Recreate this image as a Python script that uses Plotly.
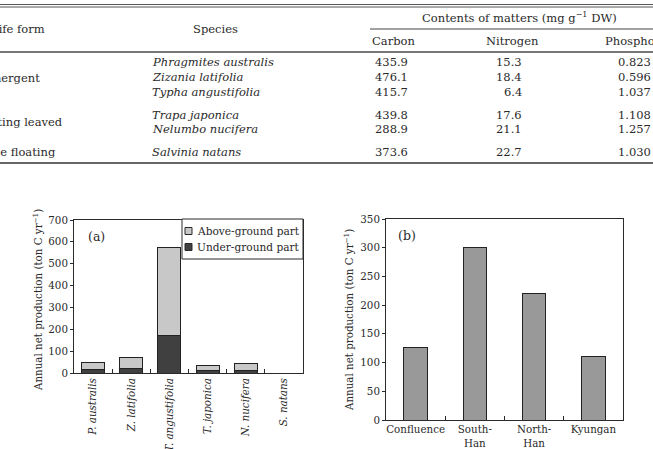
import plotly.graph_objects as go

W, H = 653, 449
def X(px): return px / W
def Y(py): return 1 - py / H

# ---------------- data ----------------
species_short = ["P. australis", "Z. latifolia", "T. angustifolia", "T. japonica", "N. nucifera", "S. natans"]
under_ground = [16, 20, 172, 10, 13, 0]
above_ground = [31, 50, 403, 23, 29, 0]

sites = ["Confluence", "South-<br>Han", "North-<br>Han", "Kyungan"]
site_production = [126, 300, 221, 110]

life_forms = ["Emergent", "Floating leaved", "Free floating"]
species_full = ["Phragmites australis", "Zizania latifolia", "Typha angustifolia",
                "Trapa japonica", "Nelumbo nucifera", "Salvinia natans"]
carbon = ["435.9", "476.1", "415.7", "439.8", "288.9", "373.6"]
nitrogen = ["15.3", "18.4", "6.4", "17.6", "21.1", "22.7"]
phosphorus = ["0.823", "0.596", "1.037", "1.108", "1.257", "1.030"]

legend_names = ["Above-ground part", "Under-ground part"]
ABOVE_C, UNDER_C = "#c8c8c8", "#404040"

FONT = "DejaVu Serif"
INK = "#2a2a2a"

fig = go.Figure()

fig.add_trace(go.Bar(x=species_short, y=under_ground, name=legend_names[1], showlegend=False,
                     marker=dict(color=UNDER_C, line=dict(color="#222222", width=1)),
                     width=0.6, xaxis="x", yaxis="y"))
fig.add_trace(go.Bar(x=species_short, y=above_ground, name=legend_names[0], showlegend=False,
                     marker=dict(color=ABOVE_C, line=dict(color="#222222", width=1)),
                     width=0.6, xaxis="x", yaxis="y"))
fig.add_trace(go.Bar(x=sites, y=site_production, showlegend=False,
                     marker=dict(color="#999999", line=dict(color="#222222", width=1)),
                     width=0.4, xaxis="x2", yaxis="y2"))

axis_common = dict(showline=True, linecolor=INK, linewidth=1, mirror=True,
                   showgrid=False, zeroline=False, automargin=False,
                   tickfont=dict(family=FONT, size=10.3, color=INK), tickcolor=INK)

fig.update_layout(
    width=W, height=H, margin=dict(l=0, r=0, t=0, b=0),
    paper_bgcolor="white", plot_bgcolor="white", barmode="stack",
    font=dict(family=FONT, color=INK), showlegend=False,
    xaxis=dict(domain=[X(74), X(303)], anchor="y", type="category",
               tickvals=species_short, ticktext=[f"<i>{s}</i>" for s in species_short],
               tickangle=-90, ticks="inside", tickson="boundaries", ticklen=4, **axis_common),
    yaxis=dict(domain=[Y(373), Y(220)], anchor="x", range=[0, 700], dtick=100,
               ticks="outside", ticklen=3, **axis_common),
    xaxis2=dict(domain=[X(386), X(623)], anchor="y2", type="category", tickangle=0,
                ticks="inside", tickson="boundaries", ticklen=4, **axis_common),
    yaxis2=dict(domain=[Y(420), Y(219)], anchor="x2", range=[0, 350], dtick=50,
                ticks="outside", ticklen=3, **axis_common),
)

ann = []
def txt(px, py, s, size=11.5, xanchor="center", **kw):
    ann.append(dict(x=X(px), y=Y(py), xref="paper", yref="paper", text=s, showarrow=False,
                    xanchor=xanchor, yanchor="middle",
                    font=dict(family=FONT, size=size, color=INK), **kw))

# chart labels
txt(96, 236, "(a)", size=12.5)
txt(407, 235, "(b)", size=12.5)
ylab = "Annual net production (ton C yr<sup>−1</sup>)"
txt(37, 300, ylab, size=10.3, textangle=-90)
txt(348, 320, ylab, size=10.3, textangle=-90)

# legend text
txt(195, 231, legend_names[0], size=10.6, xanchor="left")
txt(195, 247, legend_names[1], size=10.6, xanchor="left")

# table header
txt(47, 29, "Life form", xanchor="right")
txt(215, 29, "Species")
txt(519, 18, "Contents of matters (mg g<sup>−1</sup> DW)")
txt(393, 41, "Carbon")
txt(512, 41, "Nitrogen")
txt(603, 41, "Phosphorus", xanchor="left")

# life forms
txt(42, 78, life_forms[0], xanchor="right")
txt(65, 122, life_forms[1], xanchor="right")
txt(58, 152, life_forms[2], xanchor="right")

row_y = [62, 77, 92, 115, 129, 152]
for i, yy in enumerate(row_y):
    txt(150, yy, f"<i>{species_full[i]}</i>", xanchor="left")
    txt(410, yy, carbon[i], xanchor="right")
    txt(524, yy, nitrogen[i], xanchor="right")
    txt(653, yy, phosphorus[i], xanchor="right")

fig.update_layout(annotations=ann)

shapes = []
def hline(x0, x1, py, w=1, c="#555555"):
    shapes.append(dict(type="line", xref="paper", yref="paper", x0=X(x0), x1=X(x1),
                       y0=Y(py), y1=Y(py), line=dict(color=c, width=w)))
def rect(x0, y0, x1, y1, fill, lc=INK, w=1):
    shapes.append(dict(type="rect", xref="paper", yref="paper", x0=X(x0), x1=X(x1),
                       y0=Y(y1), y1=Y(y0), fillcolor=fill, line=dict(color=lc, width=w)))
hline(0, 653, 4.5)
hline(0, 653, 7)
hline(370, 653, 29, w=1, c="#444444")
hline(0, 653, 52, w=2, c="#777777")
hline(0, 653, 163, w=2, c="#666666")

# legend box & swatches
rect(182, 219, 303, 259, "white")
rect(185, 227.5, 192, 234.5, ABOVE_C)
rect(185, 243.5, 192, 250.5, UNDER_C)
fig.update_layout(shapes=shapes)

fig.write_html("out.html")
